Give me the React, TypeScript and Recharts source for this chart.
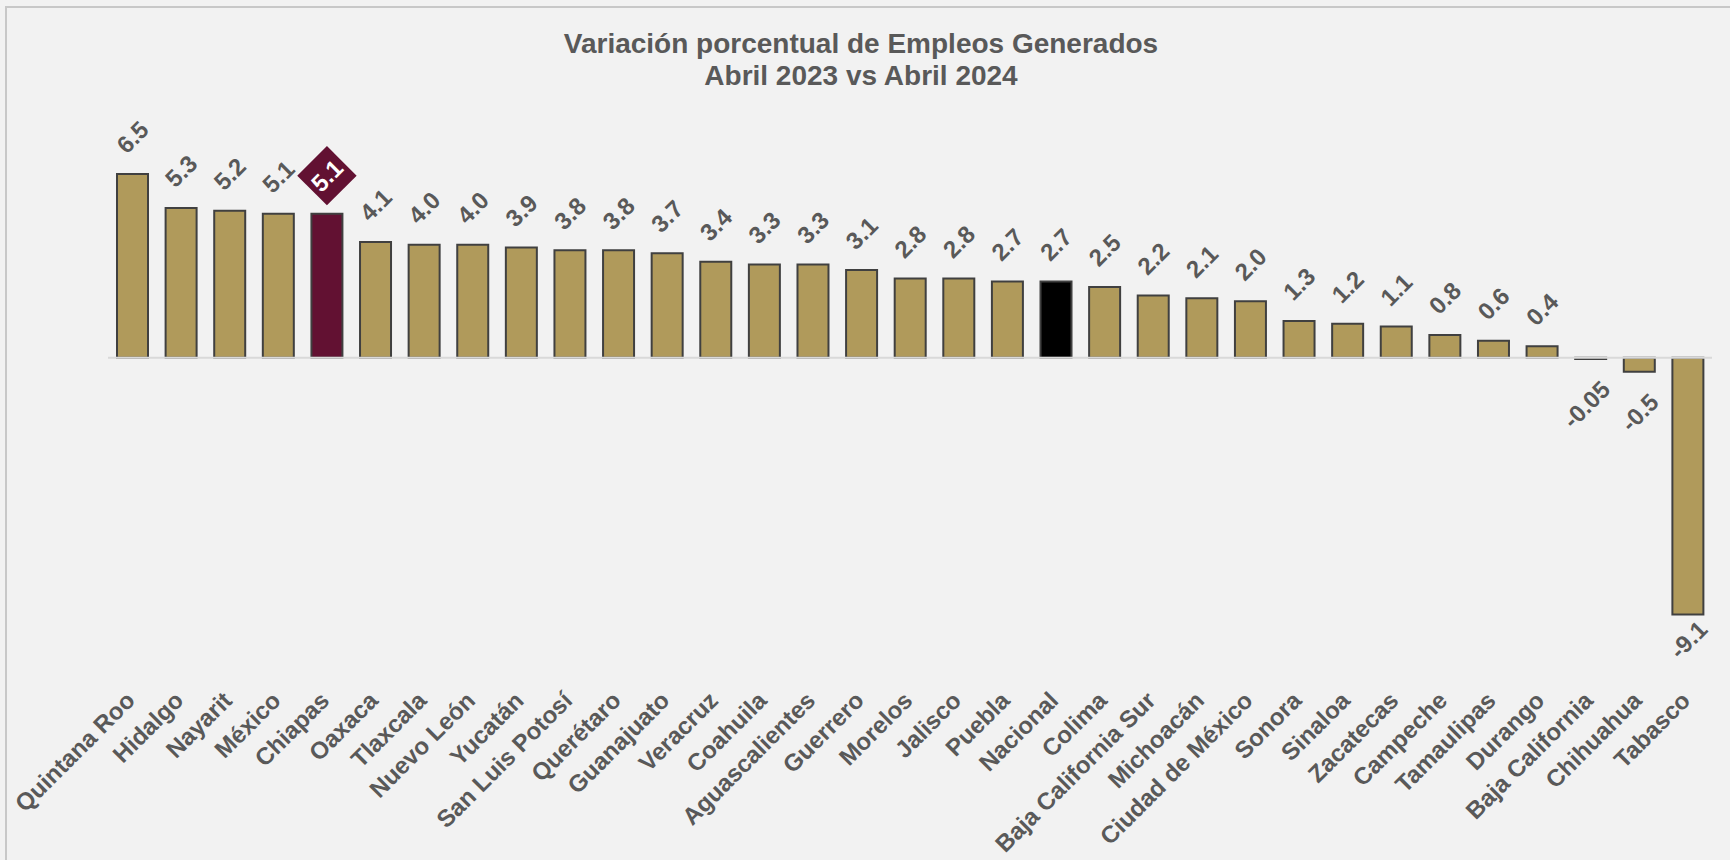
import React from "react";
import { BarChart, Bar, XAxis, YAxis, Cell, LabelList, ReferenceLine } from "recharts";

// Variación porcentual de empleos, abril 2023 vs abril 2024
const states = [
  "Quintana Roo", "Hidalgo", "Nayarit", "México", "Chiapas", "Oaxaca", "Tlaxcala",
  "Nuevo León", "Yucatán", "San Luis Potosí", "Querétaro", "Guanajuato", "Veracruz",
  "Coahuila", "Aguascalientes", "Guerrero", "Morelos", "Jalisco", "Puebla", "Nacional",
  "Colima", "Baja California Sur", "Michoacán", "Ciudad de México", "Sonora", "Sinaloa",
  "Zacatecas", "Campeche", "Tamaulipas", "Durango", "Baja California", "Chihuahua", "Tabasco",
];
const variacion = [
  6.5, 5.3, 5.2, 5.1, 5.1, 4.1, 4.0, 4.0, 3.9, 3.8, 3.8, 3.7, 3.4, 3.3, 3.3, 3.1, 2.8,
  2.8, 2.7, 2.7, 2.5, 2.2, 2.1, 2.0, 1.3, 1.2, 1.1, 0.8, 0.6, 0.4, -0.05, -0.5, -9.1,
];
const yDomain = [-10, 7];

const data = states.map((name, i) => ({ name, value: variacion[i] }));

const FONT = "'Liberation Sans', Arial, sans-serif";
const GRAY = "#595959";
const GOLD = "#b09a5b";
const highlight: Record<string, string> = { Chiapas: "#621132", Nacional: "#000000" };

const fmt = (v: number) => (Math.abs(v) < 0.1 ? v.toFixed(2) : v.toFixed(1));

function StateTick({ x, y, payload }: any) {
  const tx = x + 4;
  const ty = y + 54;
  return (
    <text
      x={tx}
      y={ty}
      transform={`rotate(-45 ${tx} ${ty})`}
      textAnchor="end"
      fontFamily={FONT}
      fontSize={24}
      fontWeight="bold"
      fill={GRAY}
    >
      {payload.value}
    </text>
  );
}

function ValueLabel(props: any) {
  const { x, y, width, height, index } = props;
  const v = variacion[index];
  const cx = x + width / 2;
  const top = Math.min(y, y + height);
  const bottom = Math.max(y, y + height);

  if (states[index] === "Chiapas") {
    const cy = top - 38;
    return (
      <g>
        <rect
          x={cx - 21}
          y={cy - 21}
          width={42}
          height={42}
          fill="#621132"
          transform={`rotate(-45 ${cx} ${cy})`}
        />
        <text
          x={cx}
          y={cy}
          transform={`rotate(-45 ${cx} ${cy})`}
          textAnchor="middle"
          dominantBaseline="central"
          fontFamily={FONT}
          fontSize={24}
          fontWeight="bold"
          fill="#ffffff"
        >
          {fmt(v)}
        </text>
      </g>
    );
  }

  if (v >= 0) {
    const cy = top - 37;
    return (
      <text
        x={cx}
        y={cy}
        transform={`rotate(-45 ${cx} ${cy})`}
        textAnchor="middle"
        dominantBaseline="central"
        fontFamily={FONT}
        fontSize={24}
        fontWeight="bold"
        fill={GRAY}
      >
        {fmt(v)}
      </text>
    );
  }

  const ex = cx + 21;
  const ey = Math.min(bottom + 32, 623);
  return (
    <text
      x={ex}
      y={ey}
      transform={`rotate(-45 ${ex} ${ey})`}
      textAnchor="end"
      fontFamily={FONT}
      fontSize={24}
      fontWeight="bold"
      fill={GRAY}
    >
      {fmt(v)}
    </text>
  );
}

export default function App() {
  return (
    <>
      <style>{"body{margin:0;background:#f2f2f2;overflow:hidden}"}</style>
      <div
        style={{
          position: "absolute",
          left: 5,
          top: 6,
          width: 1800,
          height: 900,
          border: "2px solid #c8c8c8",
          background: "#f2f2f2",
          fontFamily: FONT,
        }}
      >
        <div
          style={{
            position: "absolute",
            left: 0,
            top: 20,
            width: 1708,
            textAlign: "center",
            fontSize: 28,
            lineHeight: "32px",
            fontWeight: "bold",
            color: GRAY,
          }}
        >
          Variación porcentual de Empleos Generados
          <br />
          Abril 2023 vs Abril 2024
        </div>
        <div style={{ position: "absolute", left: 0, top: 0 }}>
          <BarChart
            width={1723}
            height={852}
            data={data}
            margin={{ top: 152, right: 18, left: 101, bottom: 190 }}
          >
            <XAxis
              dataKey="name"
              height={30}
              interval={0}
              axisLine={false}
              tickLine={false}
              tick={<StateTick />}
            />
            <YAxis hide domain={yDomain} />
            <Bar
              dataKey="value"
              barSize={31}
              fill={GOLD}
              stroke="#404040"
              strokeWidth={2}
              isAnimationActive={false}
            >
              {data.map((d) => (
                <Cell key={d.name} fill={highlight[d.name] ?? GOLD} />
              ))}
              <LabelList dataKey="value" content={<ValueLabel />} />
            </Bar>
            <ReferenceLine y={0} stroke="#d9d9d9" strokeWidth={2} />
          </BarChart>
        </div>
      </div>
    </>
  );
}
